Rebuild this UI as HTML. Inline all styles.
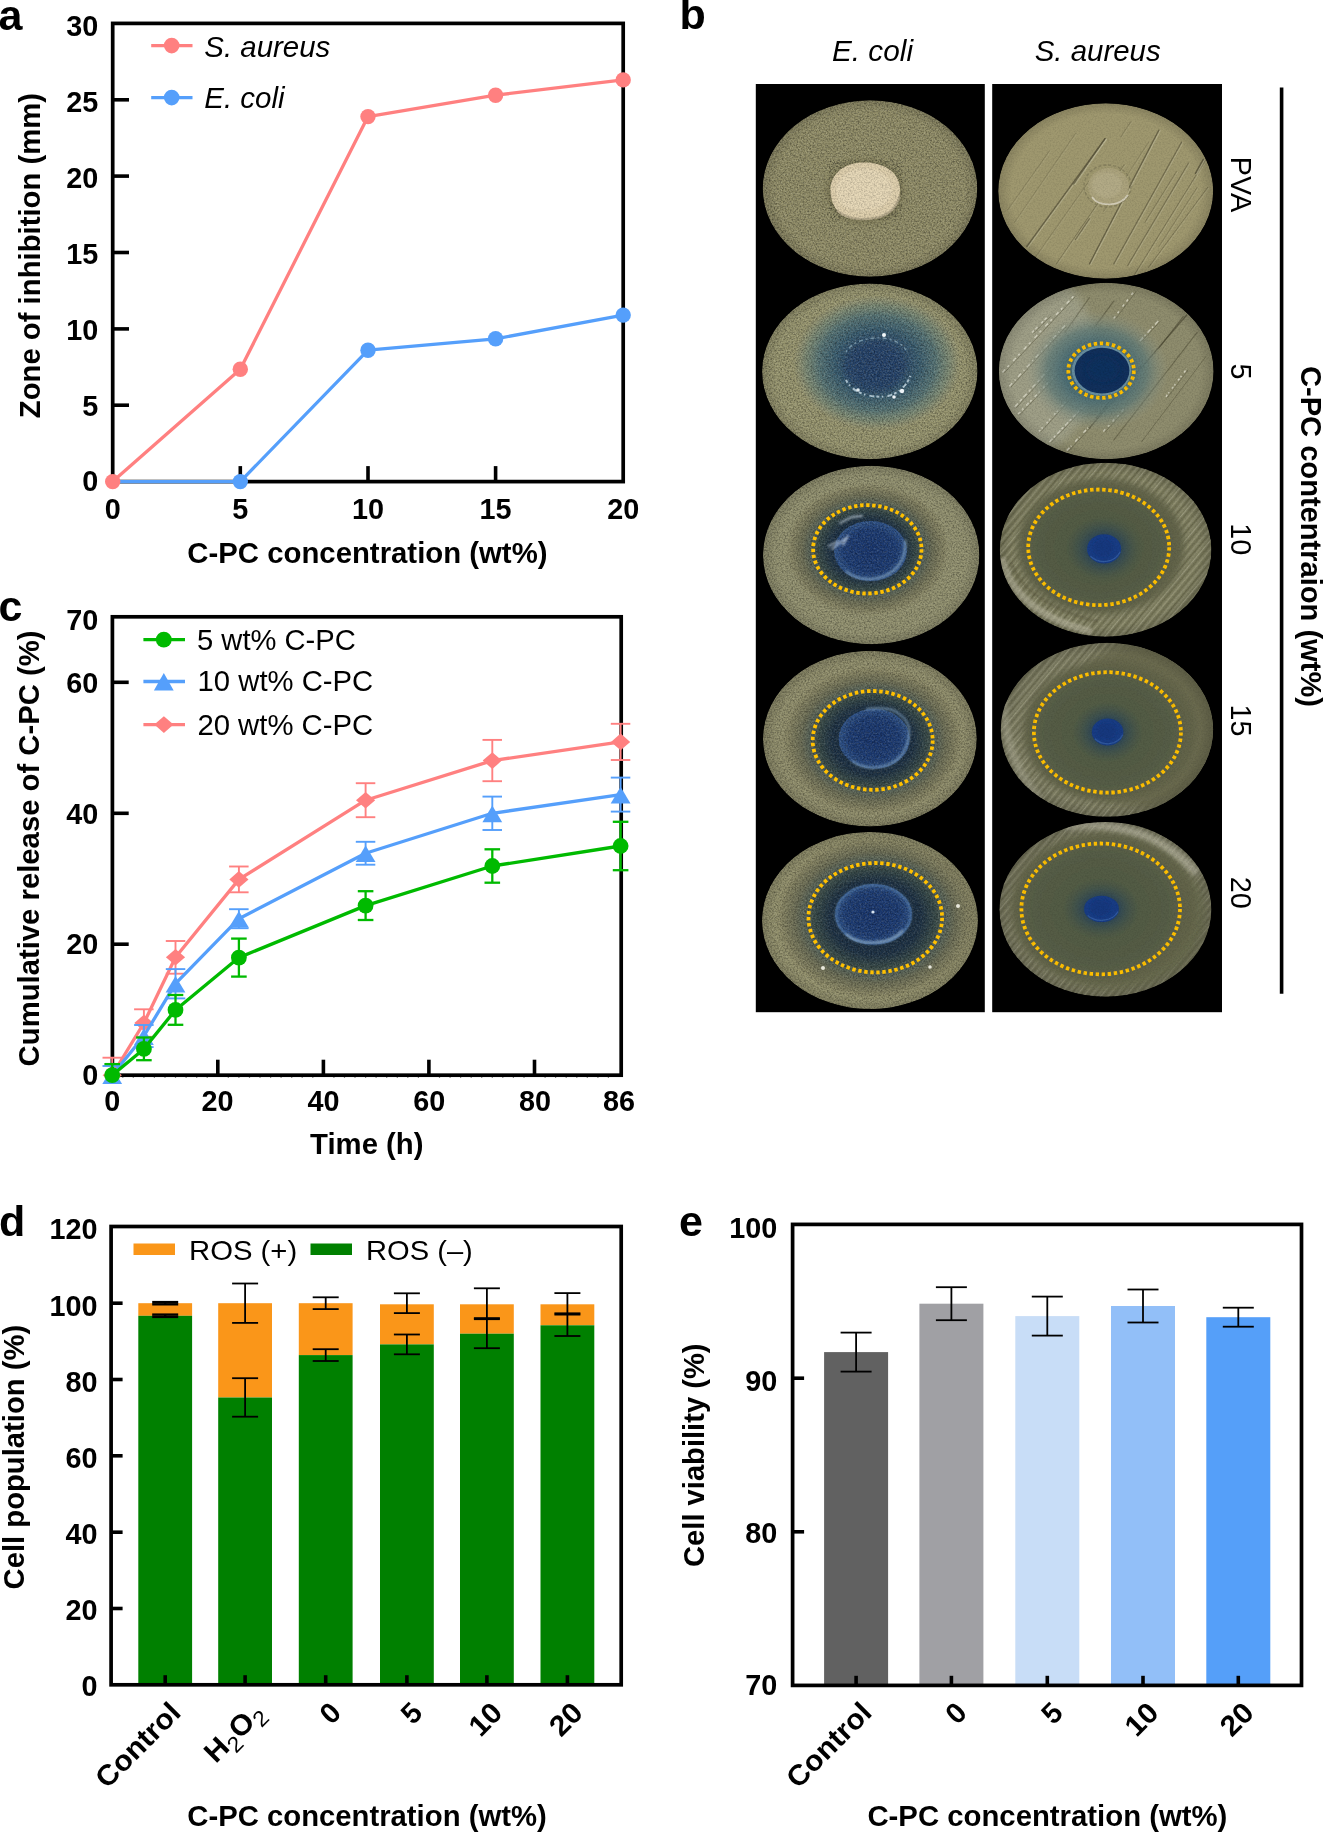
<!DOCTYPE html>
<html><head><meta charset="utf-8"><title>Figure</title>
<style>
html,body{margin:0;padding:0;background:#fff;}
svg{display:block;will-change:transform;}
text{font-family:"Liberation Sans",sans-serif;fill:#000;}
</style></head><body>
<svg width="1323" height="1832" viewBox="0 0 1323 1832">
<rect width="1323" height="1832" fill="#fff"/>

<g id="panel-a">
<text x="-1.5" y="30.2" font-size="43" font-weight="bold" font-style="normal" text-anchor="start">a</text>
<line x1="112.7" y1="405.2" x2="129.0" y2="405.2" stroke="#000" stroke-width="3.6" stroke-linecap="butt"/>
<line x1="112.7" y1="328.9" x2="129.0" y2="328.9" stroke="#000" stroke-width="3.6" stroke-linecap="butt"/>
<line x1="112.7" y1="252.5" x2="129.0" y2="252.5" stroke="#000" stroke-width="3.6" stroke-linecap="butt"/>
<line x1="112.7" y1="176.1" x2="129.0" y2="176.1" stroke="#000" stroke-width="3.6" stroke-linecap="butt"/>
<line x1="112.7" y1="99.8" x2="129.0" y2="99.8" stroke="#000" stroke-width="3.6" stroke-linecap="butt"/>
<line x1="240.3" y1="481.6" x2="240.3" y2="466.1" stroke="#000" stroke-width="3.6" stroke-linecap="butt"/>
<line x1="368.0" y1="481.6" x2="368.0" y2="466.1" stroke="#000" stroke-width="3.6" stroke-linecap="butt"/>
<line x1="495.6" y1="481.6" x2="495.6" y2="466.1" stroke="#000" stroke-width="3.6" stroke-linecap="butt"/>
<text x="98.3" y="491.3" font-size="28.8" font-weight="bold" font-style="normal" text-anchor="end">0</text>
<text x="98.3" y="415.5" font-size="28.8" font-weight="bold" font-style="normal" text-anchor="end">5</text>
<text x="98.3" y="339.7" font-size="28.8" font-weight="bold" font-style="normal" text-anchor="end">10</text>
<text x="98.3" y="263.9" font-size="28.8" font-weight="bold" font-style="normal" text-anchor="end">15</text>
<text x="98.3" y="188.0" font-size="28.8" font-weight="bold" font-style="normal" text-anchor="end">20</text>
<text x="98.3" y="112.2" font-size="28.8" font-weight="bold" font-style="normal" text-anchor="end">25</text>
<text x="98.3" y="36.4" font-size="28.8" font-weight="bold" font-style="normal" text-anchor="end">30</text>
<text x="112.7" y="519.2" font-size="28.8" font-weight="bold" font-style="normal" text-anchor="middle">0</text>
<text x="240.3" y="519.2" font-size="28.8" font-weight="bold" font-style="normal" text-anchor="middle">5</text>
<text x="368.0" y="519.2" font-size="28.8" font-weight="bold" font-style="normal" text-anchor="middle">10</text>
<text x="495.6" y="519.2" font-size="28.8" font-weight="bold" font-style="normal" text-anchor="middle">15</text>
<text x="623.2" y="519.2" font-size="28.8" font-weight="bold" font-style="normal" text-anchor="middle">20</text>
<text x="367.4" y="562.6" font-size="28.8" font-weight="bold" font-style="normal" text-anchor="middle" textLength="360.2" lengthAdjust="spacingAndGlyphs">C-PC concentration (wt%)</text>
<text x="39.8" y="255.6" font-size="28.8" font-weight="bold" font-style="normal" text-anchor="middle" transform="rotate(-90 39.8 255.6)" textLength="325.2" lengthAdjust="spacingAndGlyphs">Zone of inhibition (mm)</text>
<rect x="112.7" y="23.4" width="510.5" height="458.2" fill="none" stroke="#000" stroke-width="3.7"/>
<polyline points="112.7,481.6 240.3,481.6 368.0,350.2 495.6,338.8 623.2,315.1" fill="none" stroke="#559FFB" stroke-width="3.3" stroke-linejoin="round"/>
<polyline points="112.7,481.6 240.3,369.3 368.0,116.6 495.6,95.2 623.2,79.9" fill="none" stroke="#FF8080" stroke-width="3.3" stroke-linejoin="round"/>
<circle cx="240.3" cy="481.6" r="7.7" fill="#559FFB"/>
<circle cx="368.0" cy="350.2" r="7.7" fill="#559FFB"/>
<circle cx="495.6" cy="338.8" r="7.7" fill="#559FFB"/>
<circle cx="623.2" cy="315.1" r="7.7" fill="#559FFB"/>
<circle cx="112.7" cy="481.6" r="7.7" fill="#FF8080"/>
<circle cx="240.3" cy="369.3" r="7.7" fill="#FF8080"/>
<circle cx="368.0" cy="116.6" r="7.7" fill="#FF8080"/>
<circle cx="495.6" cy="95.2" r="7.7" fill="#FF8080"/>
<circle cx="623.2" cy="79.9" r="7.7" fill="#FF8080"/>
<line x1="151.2" y1="45.6" x2="192.5" y2="45.6" stroke="#FF8080" stroke-width="3.3" stroke-linecap="butt"/>
<circle cx="171.7" cy="45.6" r="7.8" fill="#FF8080"/>
<line x1="151.2" y1="97.6" x2="192.5" y2="97.6" stroke="#559FFB" stroke-width="3.3" stroke-linecap="butt"/>
<circle cx="171.7" cy="97.6" r="7.8" fill="#559FFB"/>
<text x="204.3" y="57.0" font-size="29" font-weight="normal" font-style="italic" text-anchor="start" textLength="126.0" lengthAdjust="spacingAndGlyphs">S. aureus</text>
<text x="204.3" y="107.5" font-size="29" font-weight="normal" font-style="italic" text-anchor="start" textLength="80.3" lengthAdjust="spacingAndGlyphs">E. coli</text>
</g>
<g id="panel-c">
<text x="-1.5" y="620.5" font-size="43" font-weight="bold" font-style="normal" text-anchor="start">c</text>
<line x1="112.4" y1="944.2" x2="128.7" y2="944.2" stroke="#000" stroke-width="3.6" stroke-linecap="butt"/>
<line x1="112.4" y1="813.3" x2="128.7" y2="813.3" stroke="#000" stroke-width="3.6" stroke-linecap="butt"/>
<line x1="112.4" y1="682.3" x2="128.7" y2="682.3" stroke="#000" stroke-width="3.6" stroke-linecap="butt"/>
<line x1="217.8" y1="1075.2" x2="217.8" y2="1059.7" stroke="#000" stroke-width="3.6" stroke-linecap="butt"/>
<line x1="323.4" y1="1075.2" x2="323.4" y2="1059.7" stroke="#000" stroke-width="3.6" stroke-linecap="butt"/>
<line x1="428.9" y1="1075.2" x2="428.9" y2="1059.7" stroke="#000" stroke-width="3.6" stroke-linecap="butt"/>
<line x1="534.5" y1="1075.2" x2="534.5" y2="1059.7" stroke="#000" stroke-width="3.6" stroke-linecap="butt"/>
<text x="98.3" y="1085.3" font-size="28.8" font-weight="bold" font-style="normal" text-anchor="end">0</text>
<text x="98.3" y="954.0" font-size="28.8" font-weight="bold" font-style="normal" text-anchor="end">20</text>
<text x="98.3" y="823.6" font-size="28.8" font-weight="bold" font-style="normal" text-anchor="end">40</text>
<text x="98.3" y="692.8" font-size="28.8" font-weight="bold" font-style="normal" text-anchor="end">60</text>
<text x="98.3" y="630.3" font-size="28.8" font-weight="bold" font-style="normal" text-anchor="end">70</text>
<text x="112.2" y="1111.0" font-size="28.8" font-weight="bold" font-style="normal" text-anchor="middle">0</text>
<text x="217.6" y="1111.0" font-size="28.8" font-weight="bold" font-style="normal" text-anchor="middle">20</text>
<text x="323.4" y="1111.0" font-size="28.8" font-weight="bold" font-style="normal" text-anchor="middle">40</text>
<text x="429.3" y="1111.0" font-size="28.8" font-weight="bold" font-style="normal" text-anchor="middle">60</text>
<text x="535.1" y="1111.0" font-size="28.8" font-weight="bold" font-style="normal" text-anchor="middle">80</text>
<text x="619.1" y="1111.0" font-size="28.8" font-weight="bold" font-style="normal" text-anchor="middle">86</text>
<line x1="122.8" y1="1076.8" x2="122.8" y2="1078.0" stroke="#8a8a8a" stroke-width="1.2" stroke-linecap="butt"/>
<line x1="133.3" y1="1076.8" x2="133.3" y2="1078.0" stroke="#8a8a8a" stroke-width="1.2" stroke-linecap="butt"/>
<line x1="143.9" y1="1076.8" x2="143.9" y2="1078.0" stroke="#8a8a8a" stroke-width="1.2" stroke-linecap="butt"/>
<line x1="154.4" y1="1076.8" x2="154.4" y2="1078.0" stroke="#8a8a8a" stroke-width="1.2" stroke-linecap="butt"/>
<line x1="165.0" y1="1076.8" x2="165.0" y2="1078.0" stroke="#8a8a8a" stroke-width="1.2" stroke-linecap="butt"/>
<line x1="175.5" y1="1076.8" x2="175.5" y2="1078.0" stroke="#8a8a8a" stroke-width="1.2" stroke-linecap="butt"/>
<line x1="186.1" y1="1076.8" x2="186.1" y2="1078.0" stroke="#8a8a8a" stroke-width="1.2" stroke-linecap="butt"/>
<line x1="196.7" y1="1076.8" x2="196.7" y2="1078.0" stroke="#8a8a8a" stroke-width="1.2" stroke-linecap="butt"/>
<line x1="207.2" y1="1076.8" x2="207.2" y2="1078.0" stroke="#8a8a8a" stroke-width="1.2" stroke-linecap="butt"/>
<line x1="228.3" y1="1076.8" x2="228.3" y2="1078.0" stroke="#8a8a8a" stroke-width="1.2" stroke-linecap="butt"/>
<line x1="238.9" y1="1076.8" x2="238.9" y2="1078.0" stroke="#8a8a8a" stroke-width="1.2" stroke-linecap="butt"/>
<line x1="249.5" y1="1076.8" x2="249.5" y2="1078.0" stroke="#8a8a8a" stroke-width="1.2" stroke-linecap="butt"/>
<line x1="260.0" y1="1076.8" x2="260.0" y2="1078.0" stroke="#8a8a8a" stroke-width="1.2" stroke-linecap="butt"/>
<line x1="270.6" y1="1076.8" x2="270.6" y2="1078.0" stroke="#8a8a8a" stroke-width="1.2" stroke-linecap="butt"/>
<line x1="281.1" y1="1076.8" x2="281.1" y2="1078.0" stroke="#8a8a8a" stroke-width="1.2" stroke-linecap="butt"/>
<line x1="291.7" y1="1076.8" x2="291.7" y2="1078.0" stroke="#8a8a8a" stroke-width="1.2" stroke-linecap="butt"/>
<line x1="302.2" y1="1076.8" x2="302.2" y2="1078.0" stroke="#8a8a8a" stroke-width="1.2" stroke-linecap="butt"/>
<line x1="312.8" y1="1076.8" x2="312.8" y2="1078.0" stroke="#8a8a8a" stroke-width="1.2" stroke-linecap="butt"/>
<line x1="333.9" y1="1076.8" x2="333.9" y2="1078.0" stroke="#8a8a8a" stroke-width="1.2" stroke-linecap="butt"/>
<line x1="344.5" y1="1076.8" x2="344.5" y2="1078.0" stroke="#8a8a8a" stroke-width="1.2" stroke-linecap="butt"/>
<line x1="355.0" y1="1076.8" x2="355.0" y2="1078.0" stroke="#8a8a8a" stroke-width="1.2" stroke-linecap="butt"/>
<line x1="365.6" y1="1076.8" x2="365.6" y2="1078.0" stroke="#8a8a8a" stroke-width="1.2" stroke-linecap="butt"/>
<line x1="376.1" y1="1076.8" x2="376.1" y2="1078.0" stroke="#8a8a8a" stroke-width="1.2" stroke-linecap="butt"/>
<line x1="386.7" y1="1076.8" x2="386.7" y2="1078.0" stroke="#8a8a8a" stroke-width="1.2" stroke-linecap="butt"/>
<line x1="397.3" y1="1076.8" x2="397.3" y2="1078.0" stroke="#8a8a8a" stroke-width="1.2" stroke-linecap="butt"/>
<line x1="407.8" y1="1076.8" x2="407.8" y2="1078.0" stroke="#8a8a8a" stroke-width="1.2" stroke-linecap="butt"/>
<line x1="418.4" y1="1076.8" x2="418.4" y2="1078.0" stroke="#8a8a8a" stroke-width="1.2" stroke-linecap="butt"/>
<line x1="439.5" y1="1076.8" x2="439.5" y2="1078.0" stroke="#8a8a8a" stroke-width="1.2" stroke-linecap="butt"/>
<line x1="450.1" y1="1076.8" x2="450.1" y2="1078.0" stroke="#8a8a8a" stroke-width="1.2" stroke-linecap="butt"/>
<line x1="460.6" y1="1076.8" x2="460.6" y2="1078.0" stroke="#8a8a8a" stroke-width="1.2" stroke-linecap="butt"/>
<line x1="471.2" y1="1076.8" x2="471.2" y2="1078.0" stroke="#8a8a8a" stroke-width="1.2" stroke-linecap="butt"/>
<line x1="481.7" y1="1076.8" x2="481.7" y2="1078.0" stroke="#8a8a8a" stroke-width="1.2" stroke-linecap="butt"/>
<line x1="492.3" y1="1076.8" x2="492.3" y2="1078.0" stroke="#8a8a8a" stroke-width="1.2" stroke-linecap="butt"/>
<line x1="502.8" y1="1076.8" x2="502.8" y2="1078.0" stroke="#8a8a8a" stroke-width="1.2" stroke-linecap="butt"/>
<line x1="513.4" y1="1076.8" x2="513.4" y2="1078.0" stroke="#8a8a8a" stroke-width="1.2" stroke-linecap="butt"/>
<line x1="524.0" y1="1076.8" x2="524.0" y2="1078.0" stroke="#8a8a8a" stroke-width="1.2" stroke-linecap="butt"/>
<line x1="545.1" y1="1076.8" x2="545.1" y2="1078.0" stroke="#8a8a8a" stroke-width="1.2" stroke-linecap="butt"/>
<line x1="555.6" y1="1076.8" x2="555.6" y2="1078.0" stroke="#8a8a8a" stroke-width="1.2" stroke-linecap="butt"/>
<line x1="566.2" y1="1076.8" x2="566.2" y2="1078.0" stroke="#8a8a8a" stroke-width="1.2" stroke-linecap="butt"/>
<line x1="576.8" y1="1076.8" x2="576.8" y2="1078.0" stroke="#8a8a8a" stroke-width="1.2" stroke-linecap="butt"/>
<line x1="587.3" y1="1076.8" x2="587.3" y2="1078.0" stroke="#8a8a8a" stroke-width="1.2" stroke-linecap="butt"/>
<line x1="597.9" y1="1076.8" x2="597.9" y2="1078.0" stroke="#8a8a8a" stroke-width="1.2" stroke-linecap="butt"/>
<line x1="608.4" y1="1076.8" x2="608.4" y2="1078.0" stroke="#8a8a8a" stroke-width="1.2" stroke-linecap="butt"/>
<text x="366.8" y="1154.0" font-size="28.8" font-weight="bold" font-style="normal" text-anchor="middle" textLength="113.4" lengthAdjust="spacingAndGlyphs">Time (h)</text>
<text x="38.7" y="848.4" font-size="28.8" font-weight="bold" font-style="normal" text-anchor="middle" transform="rotate(-90 38.7 848.4)" textLength="436.0" lengthAdjust="spacingAndGlyphs">Cumulative release of C-PC (%)</text>
<rect x="112.4" y="616.8" width="508.8" height="458.4" fill="none" stroke="#000" stroke-width="3.7"/>
<polyline points="112.2,1075.2 143.9,1023.0 175.5,957.3 238.9,879.4 365.6,800.2 492.3,760.6 620.6,741.9" fill="none" stroke="#FF8080" stroke-width="3.3" stroke-linejoin="round"/>
<line x1="112.2" y1="1057.7" x2="112.2" y2="1075.2" stroke="#FF8080" stroke-width="1.9" stroke-linecap="butt"/>
<line x1="102.5" y1="1057.7" x2="122.0" y2="1057.7" stroke="#FF8080" stroke-width="1.9" stroke-linecap="butt"/>
<line x1="143.9" y1="1009.3" x2="143.9" y2="1036.8" stroke="#FF8080" stroke-width="1.9" stroke-linecap="butt"/>
<line x1="134.1" y1="1009.3" x2="153.6" y2="1009.3" stroke="#FF8080" stroke-width="1.9" stroke-linecap="butt"/>
<line x1="134.1" y1="1036.8" x2="153.6" y2="1036.8" stroke="#FF8080" stroke-width="1.9" stroke-linecap="butt"/>
<line x1="175.5" y1="941.0" x2="175.5" y2="973.7" stroke="#FF8080" stroke-width="1.9" stroke-linecap="butt"/>
<line x1="165.8" y1="941.0" x2="185.3" y2="941.0" stroke="#FF8080" stroke-width="1.9" stroke-linecap="butt"/>
<line x1="165.8" y1="973.7" x2="185.3" y2="973.7" stroke="#FF8080" stroke-width="1.9" stroke-linecap="butt"/>
<line x1="238.9" y1="866.5" x2="238.9" y2="892.3" stroke="#FF8080" stroke-width="1.9" stroke-linecap="butt"/>
<line x1="229.1" y1="866.5" x2="248.6" y2="866.5" stroke="#FF8080" stroke-width="1.9" stroke-linecap="butt"/>
<line x1="229.1" y1="892.3" x2="248.6" y2="892.3" stroke="#FF8080" stroke-width="1.9" stroke-linecap="butt"/>
<line x1="365.6" y1="783.2" x2="365.6" y2="817.2" stroke="#FF8080" stroke-width="1.9" stroke-linecap="butt"/>
<line x1="355.8" y1="783.2" x2="375.3" y2="783.2" stroke="#FF8080" stroke-width="1.9" stroke-linecap="butt"/>
<line x1="355.8" y1="817.2" x2="375.3" y2="817.2" stroke="#FF8080" stroke-width="1.9" stroke-linecap="butt"/>
<line x1="492.3" y1="739.9" x2="492.3" y2="781.2" stroke="#FF8080" stroke-width="1.9" stroke-linecap="butt"/>
<line x1="482.5" y1="739.9" x2="502.0" y2="739.9" stroke="#FF8080" stroke-width="1.9" stroke-linecap="butt"/>
<line x1="482.5" y1="781.2" x2="502.0" y2="781.2" stroke="#FF8080" stroke-width="1.9" stroke-linecap="butt"/>
<line x1="620.6" y1="723.8" x2="620.6" y2="760.0" stroke="#FF8080" stroke-width="1.9" stroke-linecap="butt"/>
<line x1="610.8" y1="723.8" x2="630.3" y2="723.8" stroke="#FF8080" stroke-width="1.9" stroke-linecap="butt"/>
<line x1="610.8" y1="760.0" x2="630.3" y2="760.0" stroke="#FF8080" stroke-width="1.9" stroke-linecap="butt"/>
<polygon points="112.2,1066.9 121.8,1075.2 112.2,1083.5 102.6,1075.2" fill="#FF8080"/>
<polygon points="143.9,1014.7 153.5,1023.0 143.9,1031.3 134.3,1023.0" fill="#FF8080"/>
<polygon points="175.5,949.0 185.1,957.3 175.5,965.6 165.9,957.3" fill="#FF8080"/>
<polygon points="238.9,871.1 248.5,879.4 238.9,887.7 229.3,879.4" fill="#FF8080"/>
<polygon points="365.6,791.9 375.2,800.2 365.6,808.5 356.0,800.2" fill="#FF8080"/>
<polygon points="492.3,752.3 501.9,760.6 492.3,768.9 482.7,760.6" fill="#FF8080"/>
<polygon points="620.6,733.6 630.2,741.9 620.6,750.2 611.0,741.9" fill="#FF8080"/>
<polyline points="112.2,1075.2 143.9,1036.0 175.5,983.7 238.9,918.7 365.6,853.2 492.3,813.3 620.6,794.6" fill="none" stroke="#559FFB" stroke-width="3.3" stroke-linejoin="round"/>
<line x1="112.2" y1="1066.0" x2="112.2" y2="1075.2" stroke="#559FFB" stroke-width="1.9" stroke-linecap="butt"/>
<line x1="102.5" y1="1066.0" x2="122.0" y2="1066.0" stroke="#559FFB" stroke-width="1.9" stroke-linecap="butt"/>
<line x1="143.9" y1="1025.0" x2="143.9" y2="1047.1" stroke="#559FFB" stroke-width="1.9" stroke-linecap="butt"/>
<line x1="134.1" y1="1025.0" x2="153.6" y2="1025.0" stroke="#559FFB" stroke-width="1.9" stroke-linecap="butt"/>
<line x1="134.1" y1="1047.1" x2="153.6" y2="1047.1" stroke="#559FFB" stroke-width="1.9" stroke-linecap="butt"/>
<line x1="175.5" y1="969.1" x2="175.5" y2="998.4" stroke="#559FFB" stroke-width="1.9" stroke-linecap="butt"/>
<line x1="165.8" y1="969.1" x2="185.3" y2="969.1" stroke="#559FFB" stroke-width="1.9" stroke-linecap="butt"/>
<line x1="165.8" y1="998.4" x2="185.3" y2="998.4" stroke="#559FFB" stroke-width="1.9" stroke-linecap="butt"/>
<line x1="238.9" y1="909.2" x2="238.9" y2="928.2" stroke="#559FFB" stroke-width="1.9" stroke-linecap="butt"/>
<line x1="229.1" y1="909.2" x2="248.6" y2="909.2" stroke="#559FFB" stroke-width="1.9" stroke-linecap="butt"/>
<line x1="229.1" y1="928.2" x2="248.6" y2="928.2" stroke="#559FFB" stroke-width="1.9" stroke-linecap="butt"/>
<line x1="365.6" y1="841.8" x2="365.6" y2="864.7" stroke="#559FFB" stroke-width="1.9" stroke-linecap="butt"/>
<line x1="355.8" y1="841.8" x2="375.3" y2="841.8" stroke="#559FFB" stroke-width="1.9" stroke-linecap="butt"/>
<line x1="355.8" y1="864.7" x2="375.3" y2="864.7" stroke="#559FFB" stroke-width="1.9" stroke-linecap="butt"/>
<line x1="492.3" y1="796.6" x2="492.3" y2="830.0" stroke="#559FFB" stroke-width="1.9" stroke-linecap="butt"/>
<line x1="482.5" y1="796.6" x2="502.0" y2="796.6" stroke="#559FFB" stroke-width="1.9" stroke-linecap="butt"/>
<line x1="482.5" y1="830.0" x2="502.0" y2="830.0" stroke="#559FFB" stroke-width="1.9" stroke-linecap="butt"/>
<line x1="620.6" y1="777.6" x2="620.6" y2="811.6" stroke="#559FFB" stroke-width="1.9" stroke-linecap="butt"/>
<line x1="610.8" y1="777.6" x2="630.3" y2="777.6" stroke="#559FFB" stroke-width="1.9" stroke-linecap="butt"/>
<line x1="610.8" y1="811.6" x2="630.3" y2="811.6" stroke="#559FFB" stroke-width="1.9" stroke-linecap="butt"/>
<polygon points="112.2,1067.4 102.3,1084.1 122.1,1084.1" fill="#559FFB"/>
<polygon points="143.9,1028.2 134.0,1044.9 153.8,1044.9" fill="#559FFB"/>
<polygon points="175.5,975.9 165.6,992.6 185.4,992.6" fill="#559FFB"/>
<polygon points="238.9,910.9 229.0,927.6 248.8,927.6" fill="#559FFB"/>
<polygon points="365.6,845.4 355.7,862.1 375.5,862.1" fill="#559FFB"/>
<polygon points="492.3,805.5 482.4,822.2 502.2,822.2" fill="#559FFB"/>
<polygon points="620.6,786.8 610.7,803.5 630.5,803.5" fill="#559FFB"/>
<polyline points="112.2,1075.2 143.9,1048.9 175.5,1009.9 238.9,957.6 365.6,905.6 492.3,866.0 620.6,846.0" fill="none" stroke="#00BA00" stroke-width="3.3" stroke-linejoin="round"/>
<line x1="112.2" y1="1064.1" x2="112.2" y2="1075.2" stroke="#00BA00" stroke-width="2.3" stroke-linecap="butt"/>
<line x1="104.4" y1="1064.1" x2="120.0" y2="1064.1" stroke="#00BA00" stroke-width="2.3" stroke-linecap="butt"/>
<line x1="143.9" y1="1037.5" x2="143.9" y2="1060.2" stroke="#00BA00" stroke-width="2.3" stroke-linecap="butt"/>
<line x1="136.1" y1="1037.5" x2="151.7" y2="1037.5" stroke="#00BA00" stroke-width="2.3" stroke-linecap="butt"/>
<line x1="136.1" y1="1060.2" x2="151.7" y2="1060.2" stroke="#00BA00" stroke-width="2.3" stroke-linecap="butt"/>
<line x1="175.5" y1="995.0" x2="175.5" y2="1024.8" stroke="#00BA00" stroke-width="2.3" stroke-linecap="butt"/>
<line x1="167.7" y1="995.0" x2="183.3" y2="995.0" stroke="#00BA00" stroke-width="2.3" stroke-linecap="butt"/>
<line x1="167.7" y1="1024.8" x2="183.3" y2="1024.8" stroke="#00BA00" stroke-width="2.3" stroke-linecap="butt"/>
<line x1="238.9" y1="938.6" x2="238.9" y2="976.6" stroke="#00BA00" stroke-width="2.3" stroke-linecap="butt"/>
<line x1="231.1" y1="938.6" x2="246.7" y2="938.6" stroke="#00BA00" stroke-width="2.3" stroke-linecap="butt"/>
<line x1="231.1" y1="976.6" x2="246.7" y2="976.6" stroke="#00BA00" stroke-width="2.3" stroke-linecap="butt"/>
<line x1="365.6" y1="891.2" x2="365.6" y2="920.0" stroke="#00BA00" stroke-width="2.3" stroke-linecap="butt"/>
<line x1="357.8" y1="891.2" x2="373.4" y2="891.2" stroke="#00BA00" stroke-width="2.3" stroke-linecap="butt"/>
<line x1="357.8" y1="920.0" x2="373.4" y2="920.0" stroke="#00BA00" stroke-width="2.3" stroke-linecap="butt"/>
<line x1="492.3" y1="849.3" x2="492.3" y2="882.7" stroke="#00BA00" stroke-width="2.3" stroke-linecap="butt"/>
<line x1="484.5" y1="849.3" x2="500.1" y2="849.3" stroke="#00BA00" stroke-width="2.3" stroke-linecap="butt"/>
<line x1="484.5" y1="882.7" x2="500.1" y2="882.7" stroke="#00BA00" stroke-width="2.3" stroke-linecap="butt"/>
<line x1="620.6" y1="821.8" x2="620.6" y2="870.2" stroke="#00BA00" stroke-width="2.3" stroke-linecap="butt"/>
<line x1="612.8" y1="821.8" x2="628.4" y2="821.8" stroke="#00BA00" stroke-width="2.3" stroke-linecap="butt"/>
<line x1="612.8" y1="870.2" x2="628.4" y2="870.2" stroke="#00BA00" stroke-width="2.3" stroke-linecap="butt"/>
<circle cx="112.2" cy="1075.2" r="7.9" fill="#00BA00"/>
<circle cx="143.9" cy="1048.9" r="7.9" fill="#00BA00"/>
<circle cx="175.5" cy="1009.9" r="7.9" fill="#00BA00"/>
<circle cx="238.9" cy="957.6" r="7.9" fill="#00BA00"/>
<circle cx="365.6" cy="905.6" r="7.9" fill="#00BA00"/>
<circle cx="492.3" cy="866.0" r="7.9" fill="#00BA00"/>
<circle cx="620.6" cy="846.0" r="7.9" fill="#00BA00"/>
<line x1="143.4" y1="639.7" x2="185.0" y2="639.7" stroke="#00BA00" stroke-width="3.3" stroke-linecap="butt"/>
<circle cx="163.8" cy="639.7" r="7.9" fill="#00BA00"/>
<text x="197.0" y="649.9" font-size="28.7" font-weight="normal" font-style="normal" text-anchor="start" textLength="158.8" lengthAdjust="spacingAndGlyphs">5 wt% C-PC</text>
<line x1="143.4" y1="681.5" x2="185.0" y2="681.5" stroke="#559FFB" stroke-width="3.3" stroke-linecap="butt"/>
<polygon points="163.8,673.1 153.9,690.6 173.7,690.6" fill="#559FFB"/>
<text x="197.6" y="690.8" font-size="28.7" font-weight="normal" font-style="normal" text-anchor="start" textLength="175.6" lengthAdjust="spacingAndGlyphs">10 wt% C-PC</text>
<line x1="143.4" y1="724.6" x2="185.0" y2="724.6" stroke="#FF8080" stroke-width="3.3" stroke-linecap="butt"/>
<polygon points="163.9,716.3 173.5,724.6 163.9,732.9 154.3,724.6" fill="#FF8080"/>
<text x="197.4" y="735.0" font-size="28.7" font-weight="normal" font-style="normal" text-anchor="start" textLength="175.8" lengthAdjust="spacingAndGlyphs">20 wt% C-PC</text>
</g>
<g id="panel-d">
<text x="-1.0" y="1235.6" font-size="43" font-weight="bold" font-style="normal" text-anchor="start">d</text>
<rect x="138.3" y="1303.2" width="53.8" height="12.6" fill="#FA9619"/>
<rect x="138.3" y="1315.8" width="53.8" height="369.0" fill="#008000"/>
<rect x="218.2" y="1303.2" width="53.8" height="94.3" fill="#FA9619"/>
<rect x="218.2" y="1397.5" width="53.8" height="287.3" fill="#008000"/>
<rect x="298.8" y="1303.2" width="53.8" height="51.9" fill="#FA9619"/>
<rect x="298.8" y="1355.1" width="53.8" height="329.7" fill="#008000"/>
<rect x="380.0" y="1304.3" width="53.8" height="40.1" fill="#FA9619"/>
<rect x="380.0" y="1344.4" width="53.8" height="340.4" fill="#008000"/>
<rect x="460.0" y="1304.3" width="53.8" height="29.4" fill="#FA9619"/>
<rect x="460.0" y="1333.7" width="53.8" height="351.1" fill="#008000"/>
<rect x="540.5" y="1304.3" width="53.8" height="21.0" fill="#FA9619"/>
<rect x="540.5" y="1325.3" width="53.8" height="359.5" fill="#008000"/>
<line x1="165.2" y1="1302.1" x2="165.2" y2="1304.3" stroke="#000" stroke-width="2.4" stroke-linecap="butt"/>
<line x1="152.2" y1="1302.1" x2="178.2" y2="1302.1" stroke="#000" stroke-width="2.4" stroke-linecap="butt"/>
<line x1="152.2" y1="1304.3" x2="178.2" y2="1304.3" stroke="#000" stroke-width="2.4" stroke-linecap="butt"/>
<line x1="165.2" y1="1314.6" x2="165.2" y2="1316.9" stroke="#000" stroke-width="2.4" stroke-linecap="butt"/>
<line x1="152.2" y1="1314.6" x2="178.2" y2="1314.6" stroke="#000" stroke-width="2.4" stroke-linecap="butt"/>
<line x1="152.2" y1="1316.9" x2="178.2" y2="1316.9" stroke="#000" stroke-width="2.4" stroke-linecap="butt"/>
<line x1="245.1" y1="1283.5" x2="245.1" y2="1322.9" stroke="#000" stroke-width="1.8" stroke-linecap="butt"/>
<line x1="232.1" y1="1283.5" x2="258.1" y2="1283.5" stroke="#000" stroke-width="1.8" stroke-linecap="butt"/>
<line x1="232.1" y1="1322.9" x2="258.1" y2="1322.9" stroke="#000" stroke-width="1.8" stroke-linecap="butt"/>
<line x1="245.1" y1="1378.2" x2="245.1" y2="1416.7" stroke="#000" stroke-width="1.8" stroke-linecap="butt"/>
<line x1="232.1" y1="1378.2" x2="258.1" y2="1378.2" stroke="#000" stroke-width="1.8" stroke-linecap="butt"/>
<line x1="232.1" y1="1416.7" x2="258.1" y2="1416.7" stroke="#000" stroke-width="1.8" stroke-linecap="butt"/>
<line x1="325.7" y1="1297.3" x2="325.7" y2="1309.1" stroke="#000" stroke-width="1.8" stroke-linecap="butt"/>
<line x1="312.7" y1="1297.3" x2="338.7" y2="1297.3" stroke="#000" stroke-width="1.8" stroke-linecap="butt"/>
<line x1="312.7" y1="1309.1" x2="338.7" y2="1309.1" stroke="#000" stroke-width="1.8" stroke-linecap="butt"/>
<line x1="325.7" y1="1349.2" x2="325.7" y2="1361.0" stroke="#000" stroke-width="1.8" stroke-linecap="butt"/>
<line x1="312.7" y1="1349.2" x2="338.7" y2="1349.2" stroke="#000" stroke-width="1.8" stroke-linecap="butt"/>
<line x1="312.7" y1="1361.0" x2="338.7" y2="1361.0" stroke="#000" stroke-width="1.8" stroke-linecap="butt"/>
<line x1="406.9" y1="1293.3" x2="406.9" y2="1313.1" stroke="#000" stroke-width="1.8" stroke-linecap="butt"/>
<line x1="393.9" y1="1293.3" x2="419.9" y2="1293.3" stroke="#000" stroke-width="1.8" stroke-linecap="butt"/>
<line x1="393.9" y1="1313.1" x2="419.9" y2="1313.1" stroke="#000" stroke-width="1.8" stroke-linecap="butt"/>
<line x1="406.9" y1="1334.5" x2="406.9" y2="1354.3" stroke="#000" stroke-width="1.8" stroke-linecap="butt"/>
<line x1="393.9" y1="1334.5" x2="419.9" y2="1334.5" stroke="#000" stroke-width="1.8" stroke-linecap="butt"/>
<line x1="393.9" y1="1354.3" x2="419.9" y2="1354.3" stroke="#000" stroke-width="1.8" stroke-linecap="butt"/>
<line x1="486.9" y1="1288.3" x2="486.9" y2="1318.1" stroke="#000" stroke-width="1.8" stroke-linecap="butt"/>
<line x1="473.9" y1="1288.3" x2="499.9" y2="1288.3" stroke="#000" stroke-width="1.8" stroke-linecap="butt"/>
<line x1="473.9" y1="1318.1" x2="499.9" y2="1318.1" stroke="#000" stroke-width="1.8" stroke-linecap="butt"/>
<line x1="486.9" y1="1319.2" x2="486.9" y2="1348.2" stroke="#000" stroke-width="1.8" stroke-linecap="butt"/>
<line x1="473.9" y1="1319.2" x2="499.9" y2="1319.2" stroke="#000" stroke-width="1.8" stroke-linecap="butt"/>
<line x1="473.9" y1="1348.2" x2="499.9" y2="1348.2" stroke="#000" stroke-width="1.8" stroke-linecap="butt"/>
<line x1="567.4" y1="1293.1" x2="567.4" y2="1313.3" stroke="#000" stroke-width="1.8" stroke-linecap="butt"/>
<line x1="554.4" y1="1293.1" x2="580.4" y2="1293.1" stroke="#000" stroke-width="1.8" stroke-linecap="butt"/>
<line x1="554.4" y1="1313.3" x2="580.4" y2="1313.3" stroke="#000" stroke-width="1.8" stroke-linecap="butt"/>
<line x1="567.4" y1="1314.6" x2="567.4" y2="1336.0" stroke="#000" stroke-width="1.8" stroke-linecap="butt"/>
<line x1="554.4" y1="1314.6" x2="580.4" y2="1314.6" stroke="#000" stroke-width="1.8" stroke-linecap="butt"/>
<line x1="554.4" y1="1336.0" x2="580.4" y2="1336.0" stroke="#000" stroke-width="1.8" stroke-linecap="butt"/>
<line x1="111.1" y1="1608.5" x2="122.6" y2="1608.5" stroke="#000" stroke-width="3.6" stroke-linecap="butt"/>
<line x1="111.1" y1="1532.2" x2="122.6" y2="1532.2" stroke="#000" stroke-width="3.6" stroke-linecap="butt"/>
<line x1="111.1" y1="1455.8" x2="122.6" y2="1455.8" stroke="#000" stroke-width="3.6" stroke-linecap="butt"/>
<line x1="111.1" y1="1379.5" x2="122.6" y2="1379.5" stroke="#000" stroke-width="3.6" stroke-linecap="butt"/>
<line x1="111.1" y1="1303.2" x2="122.6" y2="1303.2" stroke="#000" stroke-width="3.6" stroke-linecap="butt"/>
<line x1="165.2" y1="1684.8" x2="165.2" y2="1675.2" stroke="#000" stroke-width="3.6" stroke-linecap="butt"/>
<line x1="245.1" y1="1684.8" x2="245.1" y2="1675.2" stroke="#000" stroke-width="3.6" stroke-linecap="butt"/>
<line x1="325.7" y1="1684.8" x2="325.7" y2="1675.2" stroke="#000" stroke-width="3.6" stroke-linecap="butt"/>
<line x1="406.9" y1="1684.8" x2="406.9" y2="1675.2" stroke="#000" stroke-width="3.6" stroke-linecap="butt"/>
<line x1="486.9" y1="1684.8" x2="486.9" y2="1675.2" stroke="#000" stroke-width="3.6" stroke-linecap="butt"/>
<line x1="567.4" y1="1684.8" x2="567.4" y2="1675.2" stroke="#000" stroke-width="3.6" stroke-linecap="butt"/>
<text x="97.6" y="1696.3" font-size="28.8" font-weight="bold" font-style="normal" text-anchor="end">0</text>
<text x="97.6" y="1620.2" font-size="28.8" font-weight="bold" font-style="normal" text-anchor="end">20</text>
<text x="97.6" y="1544.0" font-size="28.8" font-weight="bold" font-style="normal" text-anchor="end">40</text>
<text x="97.6" y="1467.9" font-size="28.8" font-weight="bold" font-style="normal" text-anchor="end">60</text>
<text x="97.6" y="1391.7" font-size="28.8" font-weight="bold" font-style="normal" text-anchor="end">80</text>
<text x="97.6" y="1315.6" font-size="28.8" font-weight="bold" font-style="normal" text-anchor="end">100</text>
<text x="97.6" y="1239.4" font-size="28.8" font-weight="bold" font-style="normal" text-anchor="end">120</text>
<rect x="111.1" y="1226.5" width="510.1" height="458.3" fill="none" stroke="#000" stroke-width="3.7"/>
<text x="24.0" y="1457.1" font-size="28.8" font-weight="bold" font-style="normal" text-anchor="middle" transform="rotate(-90 24.0 1457.1)" textLength="264.6" lengthAdjust="spacingAndGlyphs">Cell population (%)</text>
<text x="367.0" y="1826.0" font-size="28.8" font-weight="bold" font-style="normal" text-anchor="middle" textLength="359.4" lengthAdjust="spacingAndGlyphs">C-PC concentration (wt%)</text>
<text x="182.4" y="1714.4" font-size="28.8" font-weight="bold" font-style="normal" text-anchor="end" transform="rotate(-45 182.4 1714.4)" textLength="106.5" lengthAdjust="spacingAndGlyphs">Control</text>
<text x="265.6" y="1714.4" font-size="28.8" font-weight="bold" font-style="normal" text-anchor="end" transform="rotate(-45 265.6 1714.4)" textLength="70.5" lengthAdjust="spacingAndGlyphs">H<tspan font-size="22" font-weight="normal" dy="7">2</tspan><tspan dy="-7">O</tspan><tspan font-size="22" font-weight="normal" dy="7">2</tspan></text>
<text x="342.9" y="1714.4" font-size="28.8" font-weight="bold" font-style="normal" text-anchor="end" transform="rotate(-45 342.9 1714.4)">0</text>
<text x="424.1" y="1714.4" font-size="28.8" font-weight="bold" font-style="normal" text-anchor="end" transform="rotate(-45 424.1 1714.4)">5</text>
<text x="504.1" y="1714.4" font-size="28.8" font-weight="bold" font-style="normal" text-anchor="end" transform="rotate(-45 504.1 1714.4)" textLength="33.4" lengthAdjust="spacingAndGlyphs">10</text>
<text x="584.6" y="1714.4" font-size="28.8" font-weight="bold" font-style="normal" text-anchor="end" transform="rotate(-45 584.6 1714.4)" textLength="33.4" lengthAdjust="spacingAndGlyphs">20</text>
<rect x="133.5" y="1243.5" width="41.5" height="11.5" fill="#FA9619"/>
<rect x="310.5" y="1243.5" width="41.5" height="11.5" fill="#008000"/>
<text x="189.0" y="1260.0" font-size="28.5" font-weight="normal" font-style="normal" text-anchor="start" textLength="108.2" lengthAdjust="spacingAndGlyphs">ROS (+)</text>
<text x="366.0" y="1260.0" font-size="28.5" font-weight="normal" font-style="normal" text-anchor="start" textLength="106.8" lengthAdjust="spacingAndGlyphs">ROS (–)</text>
</g>
<g id="panel-e">
<text x="679.0" y="1235.6" font-size="43" font-weight="bold" font-style="normal" text-anchor="start">e</text>
<rect x="824.1" y="1352.1" width="64" height="333.3" fill="#616161"/>
<rect x="919.4" y="1303.7" width="64" height="381.7" fill="#A0A0A4"/>
<rect x="1015.3" y="1316.1" width="64" height="369.3" fill="#C8DDF7"/>
<rect x="1111.0" y="1306.0" width="64" height="379.4" fill="#92BFF8"/>
<rect x="1206.3" y="1317.2" width="64" height="368.2" fill="#559FF9"/>
<line x1="856.1" y1="1332.6" x2="856.1" y2="1371.6" stroke="#000" stroke-width="1.8" stroke-linecap="butt"/>
<line x1="840.6" y1="1332.6" x2="871.6" y2="1332.6" stroke="#000" stroke-width="1.8" stroke-linecap="butt"/>
<line x1="840.6" y1="1371.6" x2="871.6" y2="1371.6" stroke="#000" stroke-width="1.8" stroke-linecap="butt"/>
<line x1="951.4" y1="1287.2" x2="951.4" y2="1320.2" stroke="#000" stroke-width="1.8" stroke-linecap="butt"/>
<line x1="935.9" y1="1287.2" x2="966.9" y2="1287.2" stroke="#000" stroke-width="1.8" stroke-linecap="butt"/>
<line x1="935.9" y1="1320.2" x2="966.9" y2="1320.2" stroke="#000" stroke-width="1.8" stroke-linecap="butt"/>
<line x1="1047.3" y1="1296.6" x2="1047.3" y2="1335.6" stroke="#000" stroke-width="1.8" stroke-linecap="butt"/>
<line x1="1031.8" y1="1296.6" x2="1062.8" y2="1296.6" stroke="#000" stroke-width="1.8" stroke-linecap="butt"/>
<line x1="1031.8" y1="1335.6" x2="1062.8" y2="1335.6" stroke="#000" stroke-width="1.8" stroke-linecap="butt"/>
<line x1="1143.0" y1="1289.5" x2="1143.0" y2="1322.5" stroke="#000" stroke-width="1.8" stroke-linecap="butt"/>
<line x1="1127.5" y1="1289.5" x2="1158.5" y2="1289.5" stroke="#000" stroke-width="1.8" stroke-linecap="butt"/>
<line x1="1127.5" y1="1322.5" x2="1158.5" y2="1322.5" stroke="#000" stroke-width="1.8" stroke-linecap="butt"/>
<line x1="1238.3" y1="1307.7" x2="1238.3" y2="1326.7" stroke="#000" stroke-width="1.8" stroke-linecap="butt"/>
<line x1="1222.8" y1="1307.7" x2="1253.8" y2="1307.7" stroke="#000" stroke-width="1.8" stroke-linecap="butt"/>
<line x1="1222.8" y1="1326.7" x2="1253.8" y2="1326.7" stroke="#000" stroke-width="1.8" stroke-linecap="butt"/>
<line x1="792.6" y1="1531.8" x2="804.1" y2="1531.8" stroke="#000" stroke-width="3.6" stroke-linecap="butt"/>
<line x1="792.6" y1="1378.2" x2="804.1" y2="1378.2" stroke="#000" stroke-width="3.6" stroke-linecap="butt"/>
<line x1="856.1" y1="1685.4" x2="856.1" y2="1675.8" stroke="#000" stroke-width="3.6" stroke-linecap="butt"/>
<line x1="951.4" y1="1685.4" x2="951.4" y2="1675.8" stroke="#000" stroke-width="3.6" stroke-linecap="butt"/>
<line x1="1047.3" y1="1685.4" x2="1047.3" y2="1675.8" stroke="#000" stroke-width="3.6" stroke-linecap="butt"/>
<line x1="1143.0" y1="1685.4" x2="1143.0" y2="1675.8" stroke="#000" stroke-width="3.6" stroke-linecap="butt"/>
<line x1="1238.3" y1="1685.4" x2="1238.3" y2="1675.8" stroke="#000" stroke-width="3.6" stroke-linecap="butt"/>
<text x="777.2" y="1695.3" font-size="28.8" font-weight="bold" font-style="normal" text-anchor="end">70</text>
<text x="777.2" y="1543.3" font-size="28.8" font-weight="bold" font-style="normal" text-anchor="end">80</text>
<text x="777.2" y="1391.1" font-size="28.8" font-weight="bold" font-style="normal" text-anchor="end">90</text>
<text x="777.2" y="1237.6" font-size="28.8" font-weight="bold" font-style="normal" text-anchor="end">100</text>
<rect x="792.6" y="1224.4" width="508.9" height="461.0" fill="none" stroke="#000" stroke-width="3.7"/>
<text x="703.7" y="1455.2" font-size="28.8" font-weight="bold" font-style="normal" text-anchor="middle" transform="rotate(-90 703.7 1455.2)" textLength="223.5" lengthAdjust="spacingAndGlyphs">Cell viability (%)</text>
<text x="1047.4" y="1826.0" font-size="28.8" font-weight="bold" font-style="normal" text-anchor="middle" textLength="360.0" lengthAdjust="spacingAndGlyphs">C-PC concentration (wt%)</text>
<text x="873.3" y="1714.4" font-size="28.8" font-weight="bold" font-style="normal" text-anchor="end" transform="rotate(-45 873.3 1714.4)" textLength="106.5" lengthAdjust="spacingAndGlyphs">Control</text>
<text x="968.6" y="1714.4" font-size="28.8" font-weight="bold" font-style="normal" text-anchor="end" transform="rotate(-45 968.6 1714.4)">0</text>
<text x="1064.5" y="1714.4" font-size="28.8" font-weight="bold" font-style="normal" text-anchor="end" transform="rotate(-45 1064.5 1714.4)">5</text>
<text x="1160.2" y="1714.4" font-size="28.8" font-weight="bold" font-style="normal" text-anchor="end" transform="rotate(-45 1160.2 1714.4)" textLength="33.4" lengthAdjust="spacingAndGlyphs">10</text>
<text x="1255.5" y="1714.4" font-size="28.8" font-weight="bold" font-style="normal" text-anchor="end" transform="rotate(-45 1255.5 1714.4)" textLength="33.4" lengthAdjust="spacingAndGlyphs">20</text>
</g>
<g id="panel-b">
<text x="679.5" y="29.0" font-size="43" font-weight="bold" font-style="normal" text-anchor="start">b</text>
<text x="872.5" y="61.1" font-size="29" font-weight="normal" font-style="italic" text-anchor="middle" textLength="81.0" lengthAdjust="spacingAndGlyphs">E. coli</text>
<text x="1097.7" y="61.1" font-size="29" font-weight="normal" font-style="italic" text-anchor="middle" textLength="126.0" lengthAdjust="spacingAndGlyphs">S. aureus</text>
<defs>
<filter id="grain" x="0" y="0" width="100%" height="100%" color-interpolation-filters="sRGB">
  <feTurbulence type="fractalNoise" baseFrequency="0.62" numOctaves="2" seed="7" result="n"/>
  <feColorMatrix in="n" type="matrix" values="0 0 0 0 0  0 0 0 0 0  0 0 0 0 0  1.7 0 0 0 -0.66" result="a"/>
  <feComposite in="a" in2="SourceGraphic" operator="in"/>
</filter>
<filter id="grainL" x="0" y="0" width="100%" height="100%" color-interpolation-filters="sRGB">
  <feTurbulence type="fractalNoise" baseFrequency="0.58" numOctaves="2" seed="23" result="n"/>
  <feColorMatrix in="n" type="matrix" values="0 0 0 0 1  0 0 0 0 1  0 0 0 0 0.9  0 1.6 0 0 -0.66" result="a"/>
  <feComposite in="a" in2="SourceGraphic" operator="in"/>
</filter>
<filter id="blur2"><feGaussianBlur stdDeviation="2"/></filter>
<filter id="blur3"><feGaussianBlur stdDeviation="3"/></filter>
<filter id="blur5"><feGaussianBlur stdDeviation="5"/></filter>
<filter id="blur1"><feGaussianBlur stdDeviation="0.8"/></filter>
<pattern id="streakC" width="19" height="400" patternUnits="userSpaceOnUse" patternTransform="rotate(40)">
  <rect x="1" width="1.1" height="400" fill="#b4b398" opacity=".6"/>
  <rect x="3.6" width="0.9" height="400" fill="#45432c" opacity=".55"/>
  <rect x="6.6" width="1.3" height="400" fill="#aeac90" opacity=".55"/>
  <rect x="9.6" width="0.9" height="400" fill="#4a4830" opacity=".5"/>
  <rect x="12.4" width="1.0" height="400" fill="#b4b398" opacity=".55"/>
  <rect x="15.2" width="1.0" height="400" fill="#45432c" opacity=".5"/>
  <rect x="17.4" width="0.8" height="400" fill="#aeac90" opacity=".5"/>
</pattern>
<radialGradient id="ecHalo2"><stop offset="0" stop-color="#26426a"/><stop offset=".3" stop-color="#2a486c" stop-opacity=".98"/><stop offset=".5" stop-color="#355a70" stop-opacity=".96"/><stop offset=".7" stop-color="#4f7076" stop-opacity=".9"/><stop offset=".86" stop-color="#6b8378" stop-opacity=".6"/><stop offset="1" stop-color="#80887a" stop-opacity="0"/></radialGradient>
<radialGradient id="ecHaloO"><stop offset="0" stop-color="#5a6658"/><stop offset=".7" stop-color="#666c58" stop-opacity=".7"/><stop offset="1" stop-color="#807e62" stop-opacity="0"/></radialGradient>
<radialGradient id="ecZone"><stop offset="0" stop-color="#16283a"/><stop offset=".45" stop-color="#1d3145"/><stop offset=".6" stop-color="#374948"/><stop offset=".7" stop-color="#566258"/><stop offset=".8" stop-color="#6a6c55" stop-opacity=".96"/><stop offset=".92" stop-color="#7a785a" stop-opacity=".6"/><stop offset="1" stop-color="#84805e" stop-opacity="0"/></radialGradient>
<radialGradient id="ecBlob"><stop offset="0" stop-color="#19366e"/><stop offset=".7" stop-color="#1d3c74"/><stop offset="1" stop-color="#30548a"/></radialGradient>
<radialGradient id="saZone"><stop offset="0" stop-color="#485848"/><stop offset=".3" stop-color="#505a44"/><stop offset=".8" stop-color="#565d46"/><stop offset="1" stop-color="#5e624a"/></radialGradient>
<radialGradient id="saDotHalo"><stop offset="0" stop-color="#1b407a"/><stop offset=".42" stop-color="#2c4658" stop-opacity=".9"/><stop offset="1" stop-color="#485848" stop-opacity="0"/></radialGradient>
<radialGradient id="saHalo2"><stop offset="0" stop-color="#30546e"/><stop offset=".42" stop-color="#456a74" stop-opacity=".97"/><stop offset=".7" stop-color="#627c78" stop-opacity=".8"/><stop offset="1" stop-color="#949a88" stop-opacity="0"/></radialGradient>
<radialGradient id="dishEdge"><stop offset="0" stop-color="#000" stop-opacity="0"/><stop offset=".88" stop-color="#000" stop-opacity="0"/><stop offset="1" stop-color="#000" stop-opacity=".14"/></radialGradient>
</defs>
<rect x="755.8" y="84" width="229" height="928.2" fill="#000"/>
<rect x="992.2" y="84" width="229.8" height="928.2" fill="#000"/>
<clipPath id="ce0"><ellipse cx="870.0" cy="188.5" rx="107.3" ry="88.3"/></clipPath>
<clipPath id="ce1"><ellipse cx="869.8" cy="371.4" rx="107.7" ry="87.9"/></clipPath>
<clipPath id="ce2"><ellipse cx="871.2" cy="555.0" rx="108.2" ry="89.3"/></clipPath>
<clipPath id="ce3"><ellipse cx="869.9" cy="738.6" rx="106.9" ry="87.8"/></clipPath>
<clipPath id="ce4"><ellipse cx="870.0" cy="920.5" rx="108.0" ry="88.6"/></clipPath>
<clipPath id="cs0"><ellipse cx="1105.7" cy="191.0" rx="107.5" ry="87.7"/></clipPath>
<clipPath id="cs1"><ellipse cx="1106.3" cy="371.0" rx="107.3" ry="88.2"/></clipPath>
<clipPath id="cs2"><ellipse cx="1105.6" cy="549.7" rx="105.8" ry="87.0"/></clipPath>
<clipPath id="cs3"><ellipse cx="1106.9" cy="729.8" rx="106.2" ry="87.0"/></clipPath>
<clipPath id="cs4"><ellipse cx="1105.4" cy="909.3" rx="106.0" ry="87.4"/></clipPath>
<g clip-path="url(#ce0)">
<ellipse cx="870.0" cy="188.5" rx="107.3" ry="88.3" fill="#918d68" />
<rect x="762.7" y="100.2" width="214.6" height="176.6" fill="#38341c" filter="url(#grain)" opacity="0.5"/>
<rect x="762.7" y="100.2" width="214.6" height="176.6" fill="#fff" filter="url(#grainL)" opacity="0.26"/>
<ellipse cx="865.0" cy="191.5" rx="38.0" ry="31.0" fill="#605b3c" filter="url(#blur3)" opacity=".5"/>
<path d="M830.5,192 C829.5,176 842,164 860,162.6 C878,161 897,168 899.8,186 C901.3,200 894,214 878,217.4 C860,220.5 845,219.4 838,211.5 C833,205.5 830.8,199 830.5,192Z" fill="#dfd0ae"/>
<path d="M836,191 C836,179 846,169.5 861,168.5 C876,167.5 890,174 892,187 C893,198 886,207 874,209 C858,212 848,211 842,205 C838,201 836,197 836,191Z" fill="#e6d8b8" filter="url(#blur1)"/>
<path d="M837,210.5 C846,219.5 862,220.5 878,217.5 C890,214.5 897.5,206 899.5,196" fill="none" stroke="#b5a98c" stroke-width="2.4" opacity=".85"/>
<rect x="829" y="160" width="73" height="60" fill="#6b6450" filter="url(#grain)" opacity=".28" clip-path="none"/>
<ellipse cx="870.0" cy="188.5" rx="107.3" ry="88.3" fill="url(#dishEdge)" />
</g>
<g clip-path="url(#ce1)">
<ellipse cx="869.8" cy="371.4" rx="107.7" ry="87.9" fill="#97956f" />
<ellipse cx="877.0" cy="363.0" rx="84.0" ry="68.0" fill="url(#ecHalo2)" />
<ellipse cx="874.0" cy="368.0" rx="30.0" ry="25.0" fill="#24406a" opacity=".6" filter="url(#blur3)"/>
<rect x="762.1" y="283.5" width="215.4" height="175.8" fill="#38341c" filter="url(#grain)" opacity="0.5"/>
<rect x="762.1" y="283.5" width="215.4" height="175.8" fill="#fff" filter="url(#grainL)" opacity="0.26"/>
<path d="M846,380 C852,392 870,399 888,396 C900,393 908,384 911,374" fill="none" stroke="#c6dae4" stroke-width="2" stroke-dasharray="3 2.5 1.5 4 5 2" opacity=".8"/>
<path d="M846,352 C852,342 866,337 882,338 C894,339 902,344 906,350" fill="none" stroke="#9fbfd0" stroke-width="1.4" stroke-dasharray="2 3 4 3" opacity=".6"/>
<circle cx="884" cy="335" r="2" fill="#f4f8fa"/><circle cx="902" cy="391" r="2.2" fill="#eef4f8"/><circle cx="894" cy="397" r="1.8" fill="#eef4f8"/><circle cx="858" cy="390" r="1.8" fill="#dfe9ee"/>
<ellipse cx="869.8" cy="371.4" rx="107.7" ry="87.9" fill="url(#dishEdge)" />
</g>
<g clip-path="url(#ce2)">
<ellipse cx="871.2" cy="555.0" rx="108.2" ry="89.3" fill="#929170" />
<ellipse cx="868.0" cy="551.0" rx="82.0" ry="66.0" fill="url(#ecHaloO)" />
<ellipse cx="867.3" cy="549.3" rx="81.3" ry="66.3" fill="url(#ecZone)" />
<ellipse cx="870.5" cy="551.0" rx="36.5" ry="30.0" fill="url(#ecBlob)" />
<rect x="763.0" y="465.7" width="216.4" height="178.6" fill="#38341c" filter="url(#grain)" opacity="0.45"/>
<rect x="763.0" y="465.7" width="216.4" height="178.6" fill="#fff" filter="url(#grainL)" opacity="0.2"/>
<path d="M846,571 C857,582 884,583 898,566 C904,558 906,548 905,540" fill="none" stroke="#8fb0cc" stroke-width="2.2" opacity=".7" filter="url(#blur1)"/>
<path d="M829,546 L838,541 M832,549 L846,538 M843,545 L848,536 M840,523 L852,517 L862,516" fill="none" stroke="#cfdcea" stroke-width="1.8" opacity=".7" stroke-linecap="round" filter="url(#blur1)"/>
<ellipse cx="867.3" cy="549.3" rx="54.2" ry="44.2" fill="none" stroke="#FFC000" stroke-width="3.8" stroke-dasharray="3.403 2.674"/>
<ellipse cx="871.2" cy="555.0" rx="108.2" ry="89.3" fill="url(#dishEdge)" />
</g>
<g clip-path="url(#ce3)">
<ellipse cx="869.9" cy="738.6" rx="106.9" ry="87.8" fill="#908e6c" />
<ellipse cx="872.0" cy="741.0" rx="90.0" ry="72.0" fill="url(#ecHaloO)" />
<ellipse cx="872.7" cy="740.4" rx="90.0" ry="74.1" fill="url(#ecZone)" />
<ellipse cx="874.2" cy="738.7" rx="35.6" ry="30.0" fill="url(#ecBlob)" />
<rect x="763.0" y="650.8" width="213.8" height="175.6" fill="#38341c" filter="url(#grain)" opacity="0.45"/>
<rect x="763.0" y="650.8" width="213.8" height="175.6" fill="#fff" filter="url(#grainL)" opacity="0.2"/>
<path d="M852,761 C864,771 888,770 900,757 C907,748 910,738 909,728 C907,719 899,712 891,709.5 C884,708 874,708 866,709" fill="none" stroke="#86a8c6" stroke-width="1.9" opacity=".7" filter="url(#blur1)"/>
<ellipse cx="872.7" cy="740.4" rx="60.0" ry="49.4" fill="none" stroke="#FFC000" stroke-width="3.8" stroke-dasharray="3.445 2.707"/>
<ellipse cx="869.9" cy="738.6" rx="106.9" ry="87.8" fill="url(#dishEdge)" />
</g>
<g clip-path="url(#ce4)">
<ellipse cx="870.0" cy="920.5" rx="108.0" ry="88.6" fill="#94926e" />
<ellipse cx="875.0" cy="918.0" rx="98.0" ry="79.0" fill="url(#ecHaloO)" />
<ellipse cx="875.3" cy="917.7" rx="100.2" ry="82.1" fill="url(#ecZone)" />
<ellipse cx="873.5" cy="914.4" rx="38.6" ry="30.4" fill="url(#ecBlob)" />
<rect x="762.0" y="831.9" width="216.0" height="177.2" fill="#38341c" filter="url(#grain)" opacity="0.45"/>
<rect x="762.0" y="831.9" width="216.0" height="177.2" fill="#fff" filter="url(#grainL)" opacity="0.2"/>
<ellipse cx="873.5" cy="914.4" rx="37.4" ry="29.2" fill="none" stroke="#5f88b4" stroke-width="1.7" opacity=".7" filter="url(#blur1)"/>
<path d="M846,934 C858,946 890,946 903,930" fill="none" stroke="#9dbad2" stroke-width="2.2" opacity=".7" filter="url(#blur1)"/>
<circle cx="873" cy="912" r="1.6" fill="#d8e4f0"/><circle cx="958" cy="906" r="2" fill="#e8e8dc"/><circle cx="823" cy="968" r="2" fill="#e8e8dc"/><circle cx="930" cy="967" r="1.8" fill="#e8e8dc"/>
<ellipse cx="875.3" cy="917.7" rx="66.8" ry="54.7" fill="none" stroke="#FFC000" stroke-width="3.8" stroke-dasharray="3.401 2.672"/>
<ellipse cx="870.0" cy="920.5" rx="108.0" ry="88.6" fill="url(#dishEdge)" />
</g>
<g clip-path="url(#cs0)">
<ellipse cx="1105.7" cy="191.0" rx="107.5" ry="87.7" fill="#9f986f" />
<line x1="1028.1" y1="247.1" x2="1106.3" y2="139.3" stroke="#c9c6a8" stroke-width="1.3" opacity="0.44999999999999996" stroke-linecap="round"/>
<line x1="1026.8" y1="246.5" x2="1105.0" y2="138.7" stroke="#57523a" stroke-width="1.3" opacity="0.75" stroke-linecap="round"/>
<line x1="1090.7" y1="264.5" x2="1160.2" y2="130.6" stroke="#c9c6a8" stroke-width="1.3" opacity="0.44999999999999996" stroke-linecap="round"/>
<line x1="1089.4" y1="263.9" x2="1158.9" y2="130.0" stroke="#57523a" stroke-width="1.3" opacity="0.75" stroke-linecap="round"/>
<line x1="1075.0" y1="184.5" x2="1106.3" y2="139.3" stroke="#c9c6a8" stroke-width="1.4" opacity="0.42" stroke-linecap="round"/>
<line x1="1073.7" y1="183.9" x2="1105.0" y2="138.7" stroke="#57523a" stroke-width="1.4" opacity="0.7" stroke-linecap="round"/>
<line x1="1057.6" y1="264.5" x2="1125.4" y2="165.4" stroke="#c9c6a8" stroke-width="1.0" opacity="0.27" stroke-linecap="round"/>
<line x1="1056.3" y1="263.9" x2="1124.1" y2="164.8" stroke="#57523a" stroke-width="1.0" opacity="0.45" stroke-linecap="round"/>
<line x1="1115.0" y1="264.5" x2="1182.8" y2="142.8" stroke="#c9c6a8" stroke-width="1.2" opacity="0.36" stroke-linecap="round"/>
<line x1="1113.7" y1="263.9" x2="1181.5" y2="142.2" stroke="#57523a" stroke-width="1.2" opacity="0.6" stroke-linecap="round"/>
<line x1="1128.9" y1="266.2" x2="1189.8" y2="163.6" stroke="#c9c6a8" stroke-width="1.1" opacity="0.33" stroke-linecap="round"/>
<line x1="1127.6" y1="265.6" x2="1188.5" y2="163.0" stroke="#57523a" stroke-width="1.1" opacity="0.55" stroke-linecap="round"/>
<line x1="1135.9" y1="274.9" x2="1207.1" y2="160.1" stroke="#c9c6a8" stroke-width="1.0" opacity="0.3" stroke-linecap="round"/>
<line x1="1134.6" y1="274.3" x2="1205.8" y2="159.5" stroke="#57523a" stroke-width="1.0" opacity="0.5" stroke-linecap="round"/>
<line x1="1196.7" y1="174.0" x2="1204.5" y2="160.1" stroke="#c9c6a8" stroke-width="1.5" opacity="0.48" stroke-linecap="round"/>
<line x1="1195.4" y1="173.4" x2="1203.2" y2="159.5" stroke="#57523a" stroke-width="1.5" opacity="0.8" stroke-linecap="round"/>
<line x1="1149.8" y1="267.9" x2="1208.9" y2="188.0" stroke="#c9c6a8" stroke-width="1.0" opacity="0.27" stroke-linecap="round"/>
<line x1="1148.5" y1="267.3" x2="1207.6" y2="187.4" stroke="#57523a" stroke-width="1.0" opacity="0.45" stroke-linecap="round"/>
<line x1="1008.9" y1="210.6" x2="1050.7" y2="151.4" stroke="#c9c6a8" stroke-width="1.0" opacity="0.18" stroke-linecap="round"/>
<line x1="1007.6" y1="210.0" x2="1049.4" y2="150.8" stroke="#57523a" stroke-width="1.0" opacity="0.3" stroke-linecap="round"/>
<line x1="1015.9" y1="222.7" x2="1076.7" y2="134.1" stroke="#c9c6a8" stroke-width="1.0" opacity="0.168" stroke-linecap="round"/>
<line x1="1014.6" y1="222.1" x2="1075.4" y2="133.5" stroke="#57523a" stroke-width="1.0" opacity="0.28" stroke-linecap="round"/>
<line x1="1036.8" y1="257.5" x2="1090.7" y2="181.0" stroke="#c9c6a8" stroke-width="1.0" opacity="0.18" stroke-linecap="round"/>
<line x1="1035.5" y1="256.9" x2="1089.4" y2="180.4" stroke="#57523a" stroke-width="1.0" opacity="0.3" stroke-linecap="round"/>
<line x1="1104.6" y1="212.3" x2="1149.8" y2="142.8" stroke="#c9c6a8" stroke-width="0.9" opacity="0.18" stroke-linecap="round"/>
<line x1="1103.3" y1="211.7" x2="1148.5" y2="142.2" stroke="#57523a" stroke-width="0.9" opacity="0.3" stroke-linecap="round"/>
<line x1="1146.3" y1="222.7" x2="1177.6" y2="172.3" stroke="#c9c6a8" stroke-width="1.0" opacity="0.27" stroke-linecap="round"/>
<line x1="1145.0" y1="222.1" x2="1176.3" y2="171.7" stroke="#57523a" stroke-width="1.0" opacity="0.45" stroke-linecap="round"/>
<line x1="1160.2" y1="247.1" x2="1198.4" y2="188.0" stroke="#c9c6a8" stroke-width="1.0" opacity="0.21" stroke-linecap="round"/>
<line x1="1158.9" y1="246.5" x2="1197.1" y2="187.4" stroke="#57523a" stroke-width="1.0" opacity="0.35" stroke-linecap="round"/>
<line x1="1076.7" y1="240.1" x2="1090.7" y2="219.3" stroke="#c9c6a8" stroke-width="1.2" opacity="0.36" stroke-linecap="round"/>
<line x1="1075.4" y1="239.5" x2="1089.4" y2="218.7" stroke="#57523a" stroke-width="1.2" opacity="0.6" stroke-linecap="round"/>
<line x1="1122.0" y1="137.5" x2="1132.4" y2="121.9" stroke="#c9c6a8" stroke-width="1.0" opacity="0.21" stroke-linecap="round"/>
<line x1="1120.7" y1="136.9" x2="1131.1" y2="121.3" stroke="#57523a" stroke-width="1.0" opacity="0.35" stroke-linecap="round"/>
<ellipse cx="1107.5" cy="186.0" rx="23.5" ry="21.0" fill="none" stroke="#7d7858" stroke-width="1.4" stroke-dasharray="3 2" opacity=".75"/>
<ellipse cx="1108.5" cy="186.5" rx="20.5" ry="18.5" fill="#aaa27c" />
<ellipse cx="1107.0" cy="185.0" rx="15.0" ry="13.0" fill="#b2aa86" filter="url(#blur1)"/>
<path d="M1092,197 C1098,206.5 1119,208 1128,195" fill="none" stroke="#d6d0bc" stroke-width="1.8" opacity=".9"/>
<rect x="998.2" y="103.3" width="215.0" height="175.4" fill="#38341c" filter="url(#grain)" opacity=".12"/>
<ellipse cx="1105.7" cy="191.0" rx="107.5" ry="87.7" fill="url(#dishEdge)" />
</g>
<g clip-path="url(#cs1)">
<ellipse cx="1106.3" cy="371.0" rx="107.3" ry="88.2" fill="#8f8d6e" />
<ellipse cx="1036.3" cy="361.0" rx="60.0" ry="90.0" fill="#a3a48e" filter="url(#blur5)" opacity=".8"/>
<line x1="1089.4" y1="428.0" x2="1186.7" y2="315.0" stroke="#46432e" stroke-width="1.3" opacity="0.6" stroke-linecap="round"/>
<line x1="1113.7" y1="440.2" x2="1197.1" y2="332.4" stroke="#46432e" stroke-width="1.1" opacity="0.45" stroke-linecap="round"/>
<line x1="1141.5" y1="441.9" x2="1205.8" y2="356.7" stroke="#46432e" stroke-width="1.0" opacity="0.4" stroke-linecap="round"/>
<line x1="1094.6" y1="327.2" x2="1113.7" y2="301.1" stroke="#46432e" stroke-width="1.2" opacity="0.5" stroke-linecap="round"/>
<line x1="1065.0" y1="332.4" x2="1089.4" y2="297.6" stroke="#46432e" stroke-width="1.1" opacity="0.4" stroke-linecap="round"/>
<line x1="1096.3" y1="417.6" x2="1113.7" y2="396.7" stroke="#46432e" stroke-width="1.4" opacity="0.6" stroke-linecap="round"/>
<line x1="1158.9" y1="348.0" x2="1183.2" y2="316.7" stroke="#46432e" stroke-width="1.2" opacity="0.5" stroke-linecap="round"/>
<line x1="1002.4" y1="372.4" x2="1073.7" y2="295.9" stroke="#e4e3d2" stroke-width="1.5" opacity=".75" stroke-dasharray="3.9 3.4 2.6 5.8"/>
<line x1="1004.0" y1="373.2" x2="1075.3" y2="296.7" stroke="#4e4b34" stroke-width="1" opacity=".4"/>
<line x1="1009.4" y1="386.3" x2="1065.0" y2="325.4" stroke="#e4e3d2" stroke-width="1.5" opacity=".75" stroke-dasharray="4.2 3.8 1.1 3.9"/>
<line x1="1011.0" y1="387.1" x2="1066.6" y2="326.2" stroke="#4e4b34" stroke-width="1" opacity=".4"/>
<line x1="1014.6" y1="407.1" x2="1049.4" y2="368.9" stroke="#e4e3d2" stroke-width="1.5" opacity=".75" stroke-dasharray="4.8 3.1 2.8 2.5"/>
<line x1="1016.2" y1="407.9" x2="1051.0" y2="369.7" stroke="#4e4b34" stroke-width="1" opacity=".4"/>
<line x1="1018.1" y1="414.1" x2="1058.1" y2="372.4" stroke="#e4e3d2" stroke-width="1.5" opacity=".75" stroke-dasharray="3.4 2.1 2.1 4.3"/>
<line x1="1019.7" y1="414.9" x2="1059.7" y2="373.2" stroke="#4e4b34" stroke-width="1" opacity=".4"/>
<line x1="1038.9" y1="431.5" x2="1073.7" y2="393.2" stroke="#e4e3d2" stroke-width="1.5" opacity=".75" stroke-dasharray="2.0 2.0 1.6 5.7"/>
<line x1="1040.5" y1="432.3" x2="1075.3" y2="394.0" stroke="#4e4b34" stroke-width="1" opacity=".4"/>
<line x1="1049.4" y1="441.9" x2="1085.9" y2="403.7" stroke="#e4e3d2" stroke-width="1.5" opacity=".75" stroke-dasharray="4.3 1.9 2.6 2.6"/>
<line x1="1051.0" y1="442.7" x2="1087.5" y2="404.5" stroke="#4e4b34" stroke-width="1" opacity=".4"/>
<line x1="1066.8" y1="450.6" x2="1089.4" y2="426.3" stroke="#e4e3d2" stroke-width="1.5" opacity=".75" stroke-dasharray="3.9 1.8 1.0 5.5"/>
<line x1="1068.4" y1="451.4" x2="1091.0" y2="427.1" stroke="#4e4b34" stroke-width="1" opacity=".4"/>
<line x1="1032.0" y1="332.4" x2="1049.4" y2="315.0" stroke="#e4e3d2" stroke-width="1.5" opacity=".75" stroke-dasharray="2.6 2.0 3.0 5.5"/>
<line x1="1033.6" y1="333.2" x2="1051.0" y2="315.8" stroke="#4e4b34" stroke-width="1" opacity=".4"/>
<line x1="1103.3" y1="431.5" x2="1124.1" y2="408.9" stroke="#e4e3d2" stroke-width="1.5" opacity=".75" stroke-dasharray="2.9 3.9 2.1 4.7"/>
<line x1="1104.9" y1="432.3" x2="1125.7" y2="409.7" stroke="#4e4b34" stroke-width="1" opacity=".4"/>
<line x1="1113.7" y1="318.5" x2="1134.6" y2="290.6" stroke="#e4e3d2" stroke-width="1.5" opacity=".75" stroke-dasharray="2.6 3.9 2.4 5.9"/>
<line x1="1115.3" y1="319.3" x2="1136.2" y2="291.4" stroke="#4e4b34" stroke-width="1" opacity=".4"/>
<line x1="1139.8" y1="341.1" x2="1158.9" y2="320.2" stroke="#e4e3d2" stroke-width="1.5" opacity=".75" stroke-dasharray="4.7 2.2 1.7 2.7"/>
<line x1="1141.4" y1="341.9" x2="1160.5" y2="321.0" stroke="#4e4b34" stroke-width="1" opacity=".4"/>
<line x1="1165.9" y1="396.7" x2="1186.7" y2="368.9" stroke="#e4e3d2" stroke-width="1.5" opacity=".75" stroke-dasharray="2.4 1.7 1.6 4.4"/>
<line x1="1167.5" y1="397.5" x2="1188.3" y2="369.7" stroke="#4e4b34" stroke-width="1" opacity=".4"/>
<ellipse cx="1097.0" cy="371.0" rx="72.0" ry="60.0" fill="url(#saHalo2)" />
<ellipse cx="1101.5" cy="370.6" rx="29.6" ry="25.0" fill="#7fa6bc" opacity=".6"/>
<ellipse cx="1102.0" cy="370.6" rx="27.4" ry="22.8" fill="#11305c" />
<ellipse cx="1103.0" cy="369.0" rx="17.0" ry="13.0" fill="#10305e" filter="url(#blur3)" opacity=".8"/>
<ellipse cx="1101.1" cy="370.6" rx="32.8" ry="27.2" fill="none" stroke="#FFC000" stroke-width="3.8" stroke-dasharray="3.413 2.681"/>
<rect x="999.0" y="282.8" width="214.6" height="176.4" fill="#38341c" filter="url(#grain)" opacity=".16"/>
<ellipse cx="1106.3" cy="371.0" rx="107.3" ry="88.2" fill="url(#dishEdge)" />
</g>
<g clip-path="url(#cs2)">
<ellipse cx="1105.6" cy="549.7" rx="105.8" ry="87.0" fill="#7e7e60" />
<rect x="999.8" y="462.7" width="211.6" height="174.0" fill="url(#streakC)" opacity="0.95"/>
<path d="M1001.8,557.7 Q1013.8,612.3 1091.6,631.7" fill="none" stroke="#c9c6ae" stroke-width="7" opacity=".55" filter="url(#blur1)"/>
<path d="M1011.8,563.7 Q1025.8,603.6 1097.6,621.7" fill="none" stroke="#55523a" stroke-width="2.5" opacity=".5" filter="url(#blur1)"/>
<ellipse cx="1100.7" cy="546.3" rx="83.5" ry="67.8" fill="#62644a" filter="url(#blur3)"/>
<ellipse cx="1098.7" cy="547.3" rx="74.5" ry="61.8" fill="url(#saZone)" filter="url(#blur1)"/>
<ellipse cx="1104.1" cy="548.9" rx="39.1" ry="33.6" fill="url(#saDotHalo)" />
<ellipse cx="1104.1" cy="548.9" rx="17.0" ry="14.6" fill="#183c84" />
<ellipse cx="1103.1" cy="547.9" rx="10.2" ry="8.8" fill="#16387e" filter="url(#blur1)"/>
<path d="M1090.5,556.2 C1099.0,564.2 1114.3,563.5 1120.2,551.8" fill="none" stroke="#3f6cb0" stroke-width="1.3" opacity=".6"/>
<ellipse cx="1098.7" cy="547.3" rx="70.5" ry="57.8" fill="none" stroke="#FFC000" stroke-width="3.8" stroke-dasharray="3.428 2.694"/>
<rect x="999.8" y="462.7" width="211.6" height="174.0" fill="#38341c" filter="url(#grain)" opacity=".12"/>
<ellipse cx="1105.6" cy="549.7" rx="105.8" ry="87.0" fill="url(#dishEdge)" />
</g>
<g clip-path="url(#cs3)">
<ellipse cx="1106.9" cy="729.8" rx="106.2" ry="87.0" fill="#7a7a60" />
<rect x="1000.7" y="642.8" width="212.4" height="174.0" fill="url(#streakC)" opacity="0.85"/>
<ellipse cx="1146.9" cy="723.8" rx="84.0" ry="84.0" fill="#6b6b4f" filter="url(#blur5)" opacity=".95"/>
<path d="M1003.7,699.8 Q1002.7,759.8 1040.7,799.4" fill="none" stroke="#c4c2aa" stroke-width="8" opacity=".45" filter="url(#blur2)"/>
<ellipse cx="1109.4" cy="731.4" rx="86.5" ry="70.2" fill="#62644a" filter="url(#blur3)"/>
<ellipse cx="1107.4" cy="732.4" rx="77.5" ry="64.2" fill="url(#saZone)" filter="url(#blur1)"/>
<ellipse cx="1107.6" cy="732.0" rx="36.3" ry="31.3" fill="url(#saDotHalo)" />
<ellipse cx="1107.6" cy="732.0" rx="15.8" ry="13.6" fill="#183c84" />
<ellipse cx="1106.6" cy="731.0" rx="9.5" ry="8.2" fill="#16387e" filter="url(#blur1)"/>
<path d="M1095.0,738.8 C1102.9,746.3 1117.1,745.6 1122.6,734.7" fill="none" stroke="#3f6cb0" stroke-width="1.3" opacity=".6"/>
<ellipse cx="1107.4" cy="732.4" rx="73.5" ry="60.2" fill="none" stroke="#FFC000" stroke-width="3.8" stroke-dasharray="3.417 2.685"/>
<rect x="1000.7" y="642.8" width="212.4" height="174.0" fill="#38341c" filter="url(#grain)" opacity=".12"/>
<ellipse cx="1106.9" cy="729.8" rx="106.2" ry="87.0" fill="url(#dishEdge)" />
</g>
<g clip-path="url(#cs4)">
<ellipse cx="1105.4" cy="909.3" rx="106.0" ry="87.4" fill="#78785f" />
<rect x="999.4" y="821.9" width="212.0" height="174.8" fill="url(#streakC)" opacity="0.8"/>
<ellipse cx="1113.4" cy="915.3" rx="92.0" ry="74.0" fill="#65674c" filter="url(#blur5)" opacity=".9"/>
<path d="M1065.4,825.9 Q1145.4,817.9 1197.4,873.3" fill="none" stroke="#c9c7b2" stroke-width="9" opacity=".6" filter="url(#blur2)"/>
<ellipse cx="1102.7" cy="907.9" rx="92.3" ry="75.4" fill="#62644a" filter="url(#blur3)"/>
<ellipse cx="1100.7" cy="908.9" rx="83.3" ry="69.4" fill="url(#saZone)" filter="url(#blur1)"/>
<ellipse cx="1101.5" cy="908.9" rx="40.0" ry="30.4" fill="url(#saDotHalo)" />
<ellipse cx="1101.5" cy="908.9" rx="17.4" ry="13.2" fill="#183c84" />
<ellipse cx="1100.5" cy="907.9" rx="10.4" ry="7.9" fill="#16387e" filter="url(#blur1)"/>
<path d="M1087.6,915.5 C1096.3,922.8 1111.9,922.1 1118.0,911.5" fill="none" stroke="#3f6cb0" stroke-width="1.3" opacity=".6"/>
<ellipse cx="1100.7" cy="908.9" rx="79.3" ry="65.4" fill="none" stroke="#FFC000" stroke-width="3.8" stroke-dasharray="3.402 2.673"/>
<rect x="999.4" y="821.9" width="212.0" height="174.8" fill="#38341c" filter="url(#grain)" opacity=".12"/>
<ellipse cx="1105.4" cy="909.3" rx="106.0" ry="87.4" fill="url(#dishEdge)" />
</g>
<line x1="1281.6" y1="87.5" x2="1281.6" y2="993.7" stroke="#000" stroke-width="3.6" stroke-linecap="butt"/>
<text x="1231.1" y="184.5" font-size="28.8" font-weight="normal" font-style="normal" text-anchor="middle" transform="rotate(90 1231.1 184.5)">PVA</text>
<text x="1231.1" y="371.5" font-size="28.8" font-weight="normal" font-style="normal" text-anchor="middle" transform="rotate(90 1231.1 371.5)">5</text>
<text x="1231.1" y="539.3" font-size="28.8" font-weight="normal" font-style="normal" text-anchor="middle" transform="rotate(90 1231.1 539.3)">10</text>
<text x="1231.1" y="720.5" font-size="28.8" font-weight="normal" font-style="normal" text-anchor="middle" transform="rotate(90 1231.1 720.5)">15</text>
<text x="1231.1" y="892.8" font-size="28.8" font-weight="normal" font-style="normal" text-anchor="middle" transform="rotate(90 1231.1 892.8)">20</text>
<text x="1301.0" y="536.5" font-size="28.8" font-weight="bold" font-style="normal" text-anchor="middle" transform="rotate(90 1301.0 536.5)" textLength="341.0" lengthAdjust="spacingAndGlyphs">C-PC contentraion (wt%)</text>
</g>
</svg>
</body></html>
